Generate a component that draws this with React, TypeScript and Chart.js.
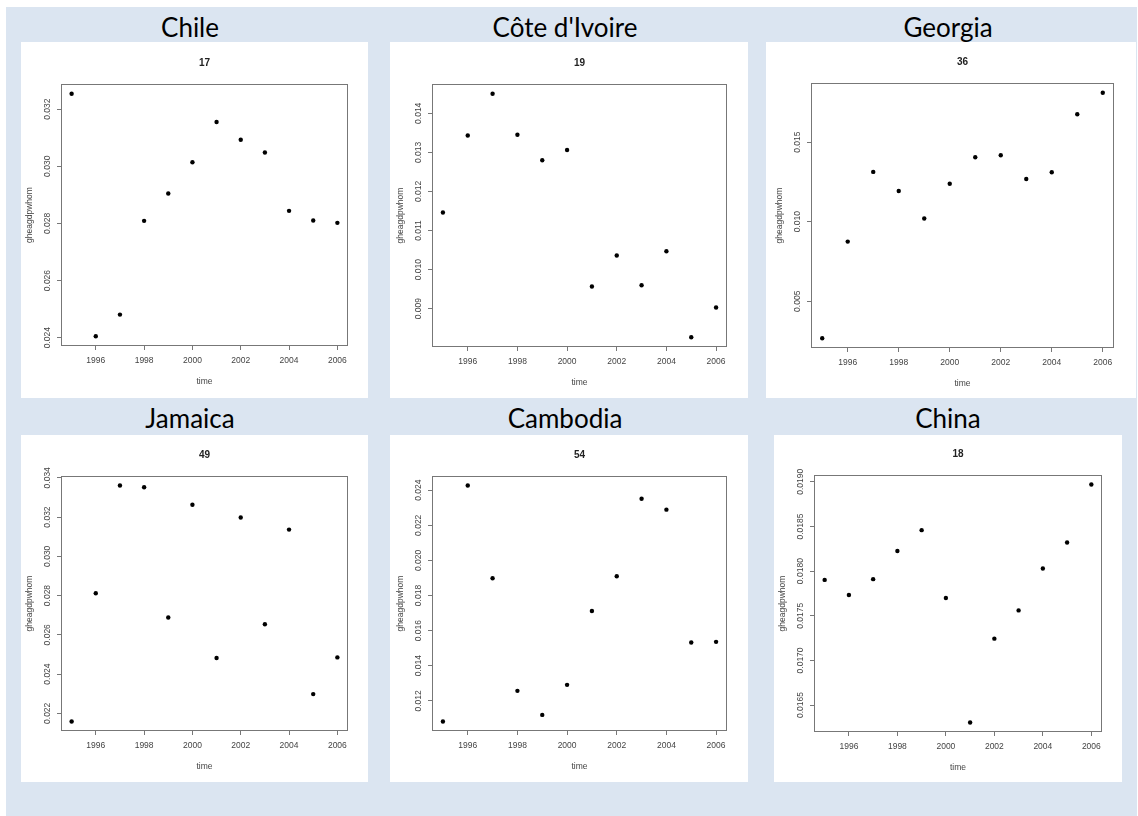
import React, { useEffect, useRef } from "react";
import { Chart, registerables } from "chart.js";

Chart.register(...registerables);

// ---- data ----
const years = [1995, 1996, 1997, 1998, 1999, 2000, 2001, 2002, 2003, 2004, 2005, 2006];
const xTickLabels = ["1996", "1998", "2000", "2002", "2004", "2006"];

const chileValues = [0.03254, 0.02405, 0.02481, 0.02809, 0.02905, 0.03014, 0.03155, 0.03093, 0.03048, 0.02844, 0.0281, 0.02802];
const coteValues = [0.01146, 0.01343, 0.0145, 0.01345, 0.0128, 0.01306, 0.00957, 0.01036, 0.0096, 0.01047, 0.00827, 0.00903];
const georgiaValues = [0.00268, 0.00875, 0.01313, 0.01193, 0.0102, 0.01239, 0.01405, 0.01418, 0.01268, 0.01311, 0.01675, 0.0181];
const jamaicaValues = [0.02158, 0.02812, 0.03361, 0.03352, 0.02688, 0.03263, 0.02482, 0.03198, 0.02654, 0.03136, 0.02298, 0.02485];
const cambodiaValues = [0.01082, 0.02427, 0.01898, 0.01257, 0.0112, 0.01291, 0.01712, 0.0191, 0.02351, 0.02289, 0.01532, 0.01536];
const chinaValues = [0.017902, 0.017733, 0.01791, 0.018226, 0.018459, 0.017699, 0.016305, 0.017244, 0.01756, 0.01803, 0.01832, 0.01897];

const chileTicks = ["0.024", "0.026", "0.028", "0.030", "0.032"];
const coteTicks = ["0.009", "0.010", "0.011", "0.012", "0.013", "0.014"];
const georgiaTicks = ["0.005", "0.010", "0.015"];
const jamaicaTicks = ["0.022", "0.024", "0.026", "0.028", "0.030", "0.032", "0.034"];
const cambodiaTicks = ["0.012", "0.014", "0.016", "0.018", "0.020", "0.022", "0.024"];
const chinaTicks = ["0.0165", "0.0170", "0.0175", "0.0180", "0.0185", "0.0190"];

const countries = ["Chile", "Côte d'Ivoire", "Georgia", "Jamaica", "Cambodia", "China"];
const codes = ["17", "19", "36", "49", "54", "18"];
const seriesList = [chileValues, coteValues, georgiaValues, jamaicaValues, cambodiaValues, chinaValues];
const tickList = [chileTicks, coteTicks, georgiaTicks, jamaicaTicks, cambodiaTicks, chinaTicks];

const yLabel = "gheagdpwhom";
const xLabel = "time";

// ---- layout (positions/sizes) ----
const panels = [
  { x: 21, y: 42, w: 347, h: 356, l: 40, r: 20, t: 42, b: 52, tx: 190, ty: 27 },
  { x: 390, y: 42, w: 358, h: 356, l: 42, r: 21, t: 42, b: 51, tx: 565, ty: 27 },
  { x: 766, y: 42, w: 370, h: 356, l: 45, r: 22, t: 41, b: 50, tx: 948, ty: 27 },
  { x: 21, y: 435, w: 347, h: 347, l: 40, r: 20, t: 41, b: 51, tx: 190, ty: 418 },
  { x: 390, y: 435, w: 358, h: 347, l: 42, r: 21, t: 41, b: 51, tx: 565, ty: 418 },
  { x: 774, y: 435, w: 348, h: 347, l: 40, r: 20, t: 40, b: 50, tx: 948, ty: 418 },
];

const INNER_FONT = '"Liberation Sans", Arial, sans-serif';
const LABEL_COLOR = "#444";
const BOX_COLOR = "#777";

function Panel({ idx }: { idx: number }) {
  const ref = useRef<HTMLCanvasElement>(null);
  const p = panels[idx];

  useEffect(() => {
    const canvas = ref.current!;
    const values = seriesList[idx];
    const ticks = tickList[idx];
    const lo = Math.min(...values);
    const hi = Math.max(...values);
    const ext = (hi - lo) * 0.04;
    const xlo = years[0];
    const xhi = years[years.length - 1];
    const xext = (xhi - xlo) * 0.04;

    const rPlugin = {
      id: "rstyle",
      afterDraw(chart: any) {
        const ctx = chart.ctx as CanvasRenderingContext2D;
        const a = chart.chartArea;
        const ys = chart.scales.y;
        ctx.save();
        ctx.strokeStyle = BOX_COLOR;
        ctx.lineWidth = 1;
        ctx.strokeRect(Math.round(a.left) + 0.5, Math.round(a.top) + 0.5, Math.round(a.right - a.left) - 1, Math.round(a.bottom - a.top) - 1);
        ctx.fillStyle = LABEL_COLOR;
        ctx.font = `8.5px ${INNER_FONT}`;
        ctx.textAlign = "center";
        ctx.textBaseline = "middle";
        ticks.forEach((t) => {
          const py = ys.getPixelForValue(Number(t));
          ctx.save();
          ctx.translate(a.left - 13, py);
          ctx.rotate(-Math.PI / 2);
          ctx.fillText(t, 0, 0);
          ctx.restore();
        });
        ctx.save();
        ctx.translate(a.left - 31, (a.top + a.bottom) / 2);
        ctx.rotate(-Math.PI / 2);
        ctx.fillText(yLabel, 0, 0);
        ctx.restore();
        ctx.fillText(xLabel, (a.left + a.right) / 2, a.bottom + 36);
        ctx.fillStyle = "#222";
        ctx.font = `bold 10px ${INNER_FONT}`;
        ctx.fillText(codes[idx], (a.left + a.right) / 2, a.top - 21);
        ctx.restore();
      },
    };

    const chart = new Chart(canvas, {
      type: "scatter",
      data: {
        datasets: [
          {
            data: years.map((yr, i) => ({ x: yr, y: values[i] })),
            pointRadius: 2.2,
            pointHoverRadius: 2.2,
            backgroundColor: "#000",
            borderWidth: 0,
          },
        ],
      },
      options: {
        responsive: false,
        animation: false,
        events: [],
        layout: { padding: { top: p.t, right: p.r, left: 0, bottom: 0 } },
        plugins: {
          legend: { display: false },
          tooltip: { enabled: false },
          title: { display: false },
        },
        scales: {
          x: {
            type: "linear",
            min: xlo - xext,
            max: xhi + xext,
            afterBuildTicks: (s: any) => {
              s.ticks = xTickLabels.map((t) => ({ value: Number(t) }));
            },
            afterFit: (s: any) => {
              s.height = p.b;
            },
            grid: { display: true, drawOnChartArea: false, drawTicks: true, tickLength: 4, color: BOX_COLOR },
            border: { display: false },
            ticks: {
              padding: 6,
              color: LABEL_COLOR,
              autoSkip: false,
              maxRotation: 0,
              font: { family: INNER_FONT, size: 8.5 },
              callback: (v: any) => String(v),
            },
          },
          y: {
            type: "linear",
            min: lo - ext,
            max: hi + ext,
            afterBuildTicks: (s: any) => {
              s.ticks = ticks.map((t) => ({ value: Number(t) }));
            },
            afterFit: (s: any) => {
              s.width = p.l;
            },
            grid: { display: true, drawOnChartArea: false, drawTicks: true, tickLength: 4, color: BOX_COLOR },
            border: { display: false },
            ticks: { display: false },
          },
        },
      },
      plugins: [rPlugin],
    } as any);
    return () => chart.destroy();
  }, [idx]);

  return (
    <>
      <div
        style={{
          position: "absolute",
          left: p.tx,
          top: p.ty,
          transform: "translate(-50%, -50%)",
          font: '26px Lato, "Open Sans", sans-serif',
          lineHeight: "30px",
          color: "#000",
          whiteSpace: "nowrap",
        }}
      >
        {countries[idx]}
      </div>
      <canvas
        ref={ref}
        width={p.w}
        height={p.h}
        style={{ position: "absolute", left: p.x, top: p.y, width: p.w, height: p.h, background: "#fff", display: "block" }}
      />
    </>
  );
}

export default function App() {
  return (
    <div style={{ position: "fixed", left: 0, top: 0, width: 1138, height: 816, background: "#fff", overflow: "hidden" }}>
      <div style={{ position: "absolute", left: 6, top: 7, width: 1131, height: 809, background: "#dbe5f1" }} />
      {panels.map((_, i) => (
        <Panel key={i} idx={i} />
      ))}
    </div>
  );
}
